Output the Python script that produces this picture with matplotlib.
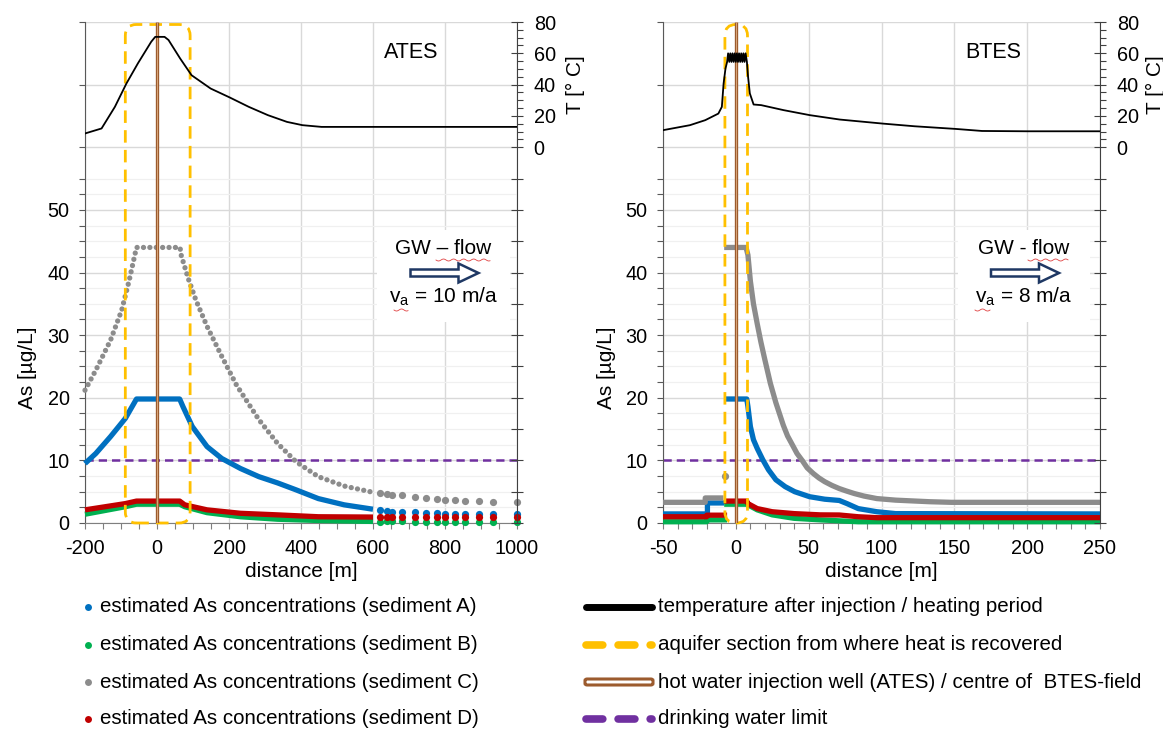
import numpy as np
import matplotlib
matplotlib.use("Agg")
import matplotlib.pyplot as plt
from matplotlib.patches import FancyBboxPatch, FancyArrow, Rectangle
from matplotlib.lines import Line2D
from matplotlib.ticker import MultipleLocator, FixedLocator, FuncFormatter

plt.rcParams['font.family'] = ['Liberation Sans', 'DejaVu Sans']
plt.rcParams['axes.unicode_minus'] = False
TICK_FS = 14.3
LAB_FS = 15
LEG_FS = 14.8

# ---------------- colours ----------------
C_A, C_B, C_C, C_D = '#0070C0', '#00B050', '#8C8C8C', '#C00000'
C_LIMIT, C_AQ, C_WELL, C_T = '#7030A0', '#FFC000', '#9C5B2E', '#000000'

# ================= ATES (left panel) =================
ates_T_x = [-200, -154, -117, -85, -53, -16, -5, 21, 32, 64, 96, 149, 202, 255, 308, 361, 404, 457, 1000]
ates_T = [8.8, 12.0, 25.8, 40.7, 53.6, 67.4, 70.5, 70.5, 68.5, 56.8, 46.0, 37.5, 31.8, 25.8, 20.5, 16.2, 14.1, 13.0, 13.0]

ates_A_x = [-200, -170, -129, -88, -57, 63, 72, 98, 139, 180, 232, 283, 335, 386, 448, 520, 600]
ates_A = [9.5, 11.1, 13.8, 16.7, 19.8, 19.8, 18.6, 15.4, 12.2, 10.3, 8.7, 7.4, 6.4, 5.3, 3.9, 2.9, 2.2]
ates_B_x = [-200, -88, -57, 63, 77, 139, 232, 335, 448, 600]
ates_B = [1.4, 2.6, 3.0, 3.0, 2.6, 1.65, 1.0, 0.6, 0.4, 0.25]
ates_C_x = [-200, -170, -129, -98, -77, -57, 64, 67, 87, 108, 139, 180, 221, 283, 335, 386, 448, 520, 600]
ates_C = [21.2, 24.4, 29.2, 34.0, 38.8, 44.0, 44.0, 42.8, 39.0, 35.6, 31.4, 26.6, 22.0, 16.5, 12.7, 9.8, 7.4, 5.9, 4.9]
ates_D_x = [-200, -88, -57, 63, 77, 139, 232, 335, 448, 600]
ates_D = [2.1, 3.1, 3.5, 3.5, 2.9, 2.1, 1.55, 1.3, 1.0, 0.95]

# far-field model nodes (coarse grid)
ates_far_x = [619, 638, 654, 680, 716, 747, 778, 800, 828, 856, 895, 934, 1000]
ates_far_A = [2.0, 1.9, 1.8, 1.8, 1.7, 1.6, 1.6, 1.5, 1.5, 1.4, 1.4, 1.4, 1.4]
ates_far_B = [0.22, 0.25, 0.25, 0.25, 0.2, 0.2, 0.2, 0.2, 0.2, 0.2, 0.2, 0.2, 0.2]
ates_far_C = [4.75, 4.6, 4.5, 4.4, 4.2, 4.0, 3.8, 3.7, 3.7, 3.5, 3.5, 3.4, 3.4]
ates_far_D = [0.95, 1.0, 1.0, 1.0, 0.95, 0.95, 0.95, 0.9, 0.9, 0.9, 0.9, 0.9, 0.9]

ates_aquifer = (-88, 92)      # section from where heat is recovered [m]
ates_xlim = (-200, 1000)

# ================= BTES (right panel) =================
btes_T_x = [-50, -31.5, -21, -12, -9.6, -8.4, -7.1,
            -6, -5.3, -4.5, -3.8, -3, -2.3, -1.5, -0.8, 0, 0.7, 1.5, 2.2, 3, 3.7, 4.5, 5.2, 6, 6.7, 7.6,
            8.4, 9.6, 12.2, 17.4, 32.8, 50.8, 71.3, 101, 122.7, 151, 169, 200, 250]
btes_T = [10.9, 14.1, 17.3, 21.5, 25.8, 40.7, 50.3,
          54.5, 60, 54.5, 60, 54.5, 60, 54.5, 60, 54.5, 60, 54.5, 60, 54.5, 60, 54.5, 60, 54.5, 60, 54.5,
          45.0, 34.4, 27.3, 26.9, 23.7, 20.5, 17.7, 15.1, 13.4, 11.7, 10.4, 10.2, 10.2]

nan = np.nan
btes_A_x = [-50, -19.5, -19.5, -8, nan, -8, 7.5, 8.3, 10, 12.1, 14.7, 18.5, 22.4, 27.5, 33.9, 40.4, 50.6, 61, 71, 76.3, 84, 96.8, 109.7, 250]
btes_A = [1.45, 1.45, 3.2, 3.2, nan, 19.8, 19.8, 18.6, 15.4, 13.3, 11.9, 10.1, 8.5, 6.9, 5.8, 5.0, 4.2, 3.8, 3.6, 3.1, 2.3, 1.8, 1.5, 1.45]
btes_B_x = [-50, -20, -20, -6, nan, -8, 7.5, 8.3, 14.7, 25, 40, 58, 84, 250]
btes_B = [0.2, 0.2, 0.5, 0.5, nan, 3.0, 3.0, 2.9, 2.1, 1.3, 0.75, 0.5, 0.2, 0.2]
btes_C_x = [-50, -21, -21, -8.5, nan, -8, 7, 8.3, 10, 12.1, 14.7, 17.2, 19.8, 23.7, 27.5, 32.6, 35.5, 39, 42, 45.5,
            49, 53.2, 57, 61, 66, 71, 76, 81.4, 88, 96.8, 109.7, 132.8, 148, 250]
btes_C = [3.3, 3.3, 4.0, 4.0, nan, 44.0, 44.0, 42.8, 38.6, 35.0, 31.8, 28.9, 26.2, 22.3, 19.2, 15.6, 13.9, 12.4, 11.1, 10.0,
          8.8, 7.9, 7.2, 6.6, 6.0, 5.5, 5.1, 4.7, 4.3, 3.9, 3.65, 3.4, 3.3, 3.3]
btes_C_single_x = [-7.6]
btes_C_single = [7.5]
btes_D_x = [-50, -20, -20, -6, nan, -8, 7.5, 8.3, 14.7, 25, 40, 58, 71, 84, 97, 250]
btes_D = [1.0, 1.0, 1.25, 1.25, nan, 3.5, 3.5, 3.1, 2.3, 1.8, 1.5, 1.3, 1.28, 1.0, 0.85, 0.85]

btes_aquifer = (-7.5, 8.0)
btes_xlim = (-50, 250)

limit = 10.0           # drinking water limit [ug/L]
as_lim = (0, 80)
T_lim = (-240, 80)

legend_left = ['estimated As concentrations (sediment A)',
               'estimated As concentrations (sediment B)',
               'estimated As concentrations (sediment C)',
               'estimated As concentrations (sediment D)']
legend_right = ['temperature after injection / heating period',
                'aquifer section from where heat is recovered',
                'hot water injection well (ATES) / centre of  BTES-field',
                'drinking water limit']

W, H = 1163, 729
fig = plt.figure(figsize=(W / 100, H / 100), dpi=100)


def fx(px):
    return px / W


def fy(py):
    return 1 - py / H


def panel(left_px, right_px, xlim, xmajor, xminor, title, ylab_px, tlab_px):
    wpx = right_px - left_px
    ax = fig.add_axes([fx(left_px), fy(523), fx(wpx), (523 - 22) / H])
    ax.set_xlim(*xlim)
    ax.set_ylim(*as_lim)
    ax.xaxis.set_major_locator(MultipleLocator(xmajor))
    ax.xaxis.set_minor_locator(MultipleLocator(xminor))
    ax.yaxis.set_major_locator(MultipleLocator(10))
    ax.yaxis.set_minor_locator(FixedLocator([v for v in np.arange(0, 55.1, 2.5) if v % 10]))
    ax.yaxis.set_major_formatter(FuncFormatter(lambda v, p: f'{v:.0f}' if v <= 50 else ''))
    ax.grid(True, which='major', axis='y', color='#d9d9d9', lw=1.0, zorder=0)
    ax.grid(True, which='minor', axis='y', color='#f0f0f0', lw=0.9, zorder=0)
    ax.grid(True, which='major', axis='x', color='#d9d9d9', lw=1.0, zorder=0)
    ax.set_axisbelow(True)
    for s in ('top', 'right'):
        ax.spines[s].set_visible(False)
    ax.spines['left'].set_color('#595959')
    ax.spines['bottom'].set_color('#7f7f7f')
    ax.tick_params(axis='y', which='both', direction='out', length=4.5, width=0.8,
                   color='#595959', labelsize=TICK_FS, pad=6.5)
    ax.tick_params(axis='x', which='both', direction='out', length=4.5, width=0.8,
                   color='#7f7f7f', labelsize=TICK_FS, pad=7.0)
    ax.set_xlabel('distance [m]', fontsize=LAB_FS, labelpad=3)
    ax.set_ylabel('As [µg/L]', fontsize=LAB_FS)
    ax.yaxis.set_label_coords((ylab_px - left_px) / wpx, 0.31)

    axT = ax.twinx()
    axT.set_ylim(*T_lim)
    axT.yaxis.set_major_locator(FixedLocator(np.arange(T_lim[0], T_lim[1] + 1, 20)))
    axT.yaxis.set_minor_locator(FixedLocator([v for v in np.arange(0, 81, 5) if v % 20]))
    axT.yaxis.set_major_formatter(FuncFormatter(lambda v, p: f'{v:.0f}' if v >= 0 else ''))
    for s in ('top', 'left', 'bottom'):
        axT.spines[s].set_visible(False)
    axT.spines['right'].set_color('#404040')
    axT.tick_params(axis='y', which='major', direction='inout', length=9, width=0.8,
                    color='#404040', labelsize=TICK_FS, pad=7.5)
    axT.tick_params(axis='y', which='minor', direction='out', length=4, width=0.8, color='#404040')
    axT.set_ylabel('T [° C]', fontsize=LAB_FS)
    axT.yaxis.set_label_coords((tlab_px - left_px) / wpx, 0.875)

    ax.text(0.755, 0.94, title, transform=ax.transAxes, ha='center', va='center', fontsize=15.5)
    return ax, axT


def flow_box(ax, left_px, right_px, txt1, txt2, box_l, box_r, wav1, wav2):
    wpx = right_px - left_px
    bx0 = (box_l - left_px) / wpx
    bx1 = (box_r - left_px) / wpx
    y0 = (523 - 322) / 501
    y1 = (523 - 230) / 501
    ax.add_patch(Rectangle((bx0, y0), bx1 - bx0, y1 - y0, transform=ax.transAxes,
                           facecolor='white', edgecolor='none', zorder=1.5))
    cx = (bx0 + bx1) / 2
    ax.text(cx, (523 - 249) / 501, txt1, transform=ax.transAxes, ha='center', va='center',
            fontsize=LAB_FS, zorder=6)
    ax.text(cx, (523 - 297) / 501, txt2, transform=ax.transAxes, ha='center', va='center',
            fontsize=LAB_FS, zorder=6)
    arr = FancyArrow(cx - 33 / wpx, (523 - 273) / 501, 68 / wpx, 0, width=7 / 501,
                     head_width=19 / 501, head_length=20 / wpx, length_includes_head=True,
                     transform=ax.transAxes, facecolor='white', edgecolor='#1F3864', lw=1.8, zorder=6)
    ax.add_patch(arr)
    for (xa, xb, yy) in (wav1, wav2):
        t = np.linspace(0, 1, 60)
        xs = xa + (xb - xa) * t
        ys = yy + 1.0 * np.sin(t * (xb - xa) / 1.6)
        fig.add_artist(Line2D([fx(v) for v in xs], [fy(v) for v in ys], color='#E04040',
                              lw=0.6, transform=fig.transFigure, zorder=7))


def draw_series(ax, xlim, aq, series, far=None, single=None, T_x=None, T=None, axT=None, sx=None,
                gray_dotted=True):
    ax.plot(list(xlim), [limit, limit], color=C_LIMIT, lw=1.8, dashes=(3.3, 2.0), zorder=2)
    for (xs, ys, c) in series:
        if c == C_C and gray_dotted:
            ax.plot(xs, ys, color=c, lw=3.8, linestyle=(0, (0.01, 1.2)),
                    dash_capstyle='round', zorder=3, clip_on=False)
        else:
            ax.plot(xs, ys, color=c, lw=3.8, solid_capstyle='butt', solid_joinstyle='round',
                    zorder=3, clip_on=False)
    if far is not None:
        fx_, fys = far
        for (ys, c) in fys:
            ax.plot(fx_, ys, 'o', color=c, ms=5.2, mec='none', zorder=3, clip_on=False)
    if single is not None:
        ax.plot(single[0], single[1], 'o', color=C_C, ms=5.2, mec='none', zorder=3)
    xr = xlim[1] - xlim[0]
    rad_px = 11
    rx = rad_px / sx * xr
    aspect = (rad_px / 501 * (as_lim[1] - as_lim[0])) / rx
    box = FancyBboxPatch((aq[0], 0.0), aq[1] - aq[0], 79.6, boxstyle=f'round,pad=0,rounding_size={rx}',
                         mutation_aspect=aspect, facecolor='none', edgecolor=C_AQ, lw=2.0,
                         linestyle=(0, (4.5, 2.6)), zorder=5, clip_on=False)
    ax.add_patch(box)
    ax.plot([0, 0], [as_lim[0], as_lim[1]], color=C_WELL, lw=2.4, zorder=5.5, solid_capstyle='butt')
    ax.plot([0, 0], [as_lim[0], as_lim[1]], color='#D9A77A', lw=0.7, zorder=5.6, solid_capstyle='butt')
    axT.plot(T_x, T, color=C_T, lw=1.3, zorder=4)


# ---- left panel ----
axL, axLT = panel(85, 517, ates_xlim, 200, 50, 'ATES', 37, 566)
draw_series(axL, ates_xlim, ates_aquifer,
            [(ates_A_x, ates_A, C_A), (ates_B_x, ates_B, C_B), (ates_C_x, ates_C, C_C), (ates_D_x, ates_D, C_D)],
            far=(ates_far_x, [(ates_far_A, C_A), (ates_far_B, C_B), (ates_far_C, C_C), (ates_far_D, C_D)]),
            T_x=ates_T_x, T=ates_T, axT=axLT, sx=432)
flow_box(axL, 85, 517, 'GW – flow', r'v$_\mathregular{a}$ = 10 m/a', 377, 510,
         (436, 490, 260), (394, 408, 310))

# ---- right panel ----
axR, axRT = panel(663, 1100, btes_xlim, 50, 10, 'BTES', 616, 1146)
draw_series(axR, btes_xlim, btes_aquifer,
            [(btes_A_x, btes_A, C_A), (btes_B_x, btes_B, C_B), (btes_C_x, btes_C, C_C), (btes_D_x, btes_D, C_D)],
            single=(btes_C_single_x, btes_C_single),
            T_x=btes_T_x, T=btes_T, axT=axRT, sx=437, gray_dotted=False)
flow_box(axR, 663, 1100, 'GW - flow', r'v$_\mathregular{a}$ = 8 m/a', 958, 1090,
         (1028, 1068, 260), (975, 990, 310))

# ---------------- legend (drawn manually) ----------------
rows = [607, 645, 682, 719]
for lab, c, yy in zip(legend_left, [C_A, C_B, C_C, C_D], rows):
    fig.add_artist(Line2D([fx(88)], [fy(yy)], marker='o', ms=5, color=c, mec='none',
                          transform=fig.transFigure))
    fig.text(fx(100), fy(yy), lab, ha='left', va='center', fontsize=LEG_FS)

hx0, hx1 = fx(586), fx(652)
fig.add_artist(Line2D([hx0, hx1], [fy(rows[0])] * 2, color='black', lw=5, solid_capstyle='round',
                      transform=fig.transFigure))
fig.add_artist(Line2D([hx0, hx1], [fy(rows[1])] * 2, color=C_AQ, lw=5.5, dash_capstyle='round',
                      dashes=(2.2, 2.0), transform=fig.transFigure))
fig.add_artist(FancyBboxPatch((fx(585), fy(rows[2]) - 3 / H), fx(68), 6 / H,
                              boxstyle='round,pad=0,rounding_size=0.002', transform=fig.transFigure,
                              facecolor='white', edgecolor=C_WELL, lw=2.2))
fig.add_artist(Line2D([hx0, hx1], [fy(rows[3])] * 2, color=C_LIMIT, lw=5.5, dash_capstyle='round',
                      dashes=(2.2, 2.0), transform=fig.transFigure))
for lab, yy in zip(legend_right, rows):
    fig.text(fx(658), fy(yy), lab, ha='left', va='center', fontsize=LEG_FS)

fig.savefig('out.png', dpi=100)
